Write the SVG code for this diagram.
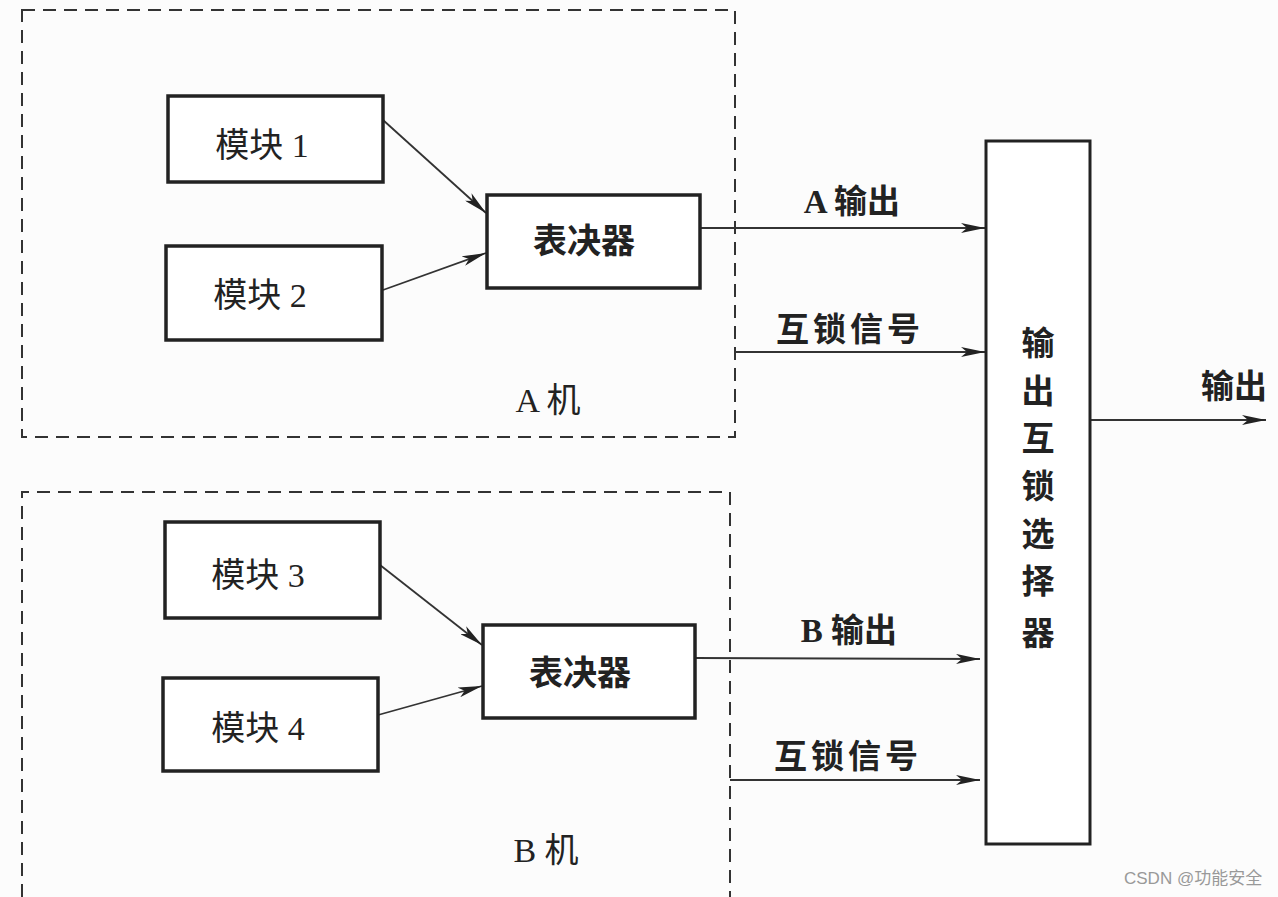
<svg xmlns="http://www.w3.org/2000/svg" width="1278" height="897" viewBox="0 0 1278 897">
<defs>
<marker id="arr" viewBox="0 0 24 10" refX="24" refY="5" markerWidth="24" markerHeight="10" markerUnits="userSpaceOnUse" orient="auto">
<path d="M0,0 L24,5 L0,10 L6,5 Z" fill="#222"/>
</marker>
<style>
.dash{fill:none;stroke:#333;stroke-width:2;stroke-dasharray:13 8}
.box{fill:#fff;stroke:#222;stroke-width:3.5}
.sel{fill:#fff;stroke:#222;stroke-width:3}
.ln{fill:none;stroke:#333;stroke-width:1.8}
.t{font-family:"Liberation Serif","Noto Sans CJK SC",serif;font-size:34px;fill:#222;text-anchor:middle}
.b{font-family:"Liberation Serif","Noto Sans CJK SC",serif;font-size:33px;font-weight:bold;fill:#222;text-anchor:middle}
.wm{font-family:"Liberation Sans","Noto Sans CJK SC",sans-serif;font-size:17px;fill:#999}
</style>
</defs>
<rect width="1278" height="897" fill="#fcfcfc"/>
<g id="groupA">
<path class="dash" d="M22,10 H735 V437 H22 Z"/>
<text class="t" x="548" y="412">A 机</text>
</g>
<g id="groupB">
<path class="dash" d="M22,897 V492 H730 V897"/>
<text class="t" x="546" y="862">B 机</text>
</g>
<g id="connectors">
<line class="ln" x1="383" y1="120" x2="486" y2="213" marker-end="url(#arr)"/>
<line class="ln" x1="383" y1="290" x2="486" y2="253" marker-end="url(#arr)"/>
<line class="ln" x1="700" y1="228" x2="985" y2="228" marker-end="url(#arr)"/>
<line class="ln" x1="735" y1="352" x2="985" y2="352" marker-end="url(#arr)"/>
<line class="ln" x1="380" y1="565" x2="482" y2="645" marker-end="url(#arr)"/>
<line class="ln" x1="378" y1="715" x2="482" y2="686" marker-end="url(#arr)"/>
<line class="ln" x1="695" y1="658" x2="980" y2="659" marker-end="url(#arr)"/>
<line class="ln" x1="730" y1="780" x2="980" y2="780" marker-end="url(#arr)"/>
<line class="ln" x1="1090" y1="420" x2="1266" y2="420" marker-end="url(#arr)"/>
<text class="b" x="852" y="213">A 输出</text>
<text class="b" x="850" y="341" letter-spacing="4">互锁信号</text>
<text class="b" x="849" y="642">B 输出</text>
<text class="b" x="848" y="768" letter-spacing="4">互锁信号</text>
<text class="b" x="1234" y="398">输出</text>
</g>
<g id="module1"><rect class="box" x="168" y="96" width="215" height="86"/><text class="t" x="262" y="157">模块 1</text></g>
<g id="module2"><rect class="box" x="166" y="246" width="216" height="94"/><text class="t" x="260" y="307">模块 2</text></g>
<g id="voterA"><rect class="box" x="487" y="195" width="213" height="93"/><text class="t" x="584" y="253" font-weight="bold" font-size="35">表决器</text></g>
<g id="module3"><rect class="box" x="165" y="522" width="215" height="96"/><text class="t" x="258" y="587">模块 3</text></g>
<g id="module4"><rect class="box" x="163" y="678" width="215" height="93"/><text class="t" x="258" y="740">模块 4</text></g>
<g id="voterB"><rect class="box" x="483" y="625" width="212" height="93"/><text class="t" x="580" y="685" font-weight="bold" font-size="35">表决器</text></g>
<g id="selector">
<rect class="sel" x="986" y="141" width="104" height="703"/>
<text class="b" x="1038" y="355">输</text>
<text class="b" x="1038" y="403">出</text>
<text class="b" x="1038" y="450">互</text>
<text class="b" x="1038" y="498">锁</text>
<text class="b" x="1038" y="546">选</text>
<text class="b" x="1038" y="593">择</text>
<text class="b" x="1038" y="645">器</text>
</g>
<text class="wm" x="1124" y="884">CSDN @功能安全</text>
</svg>
